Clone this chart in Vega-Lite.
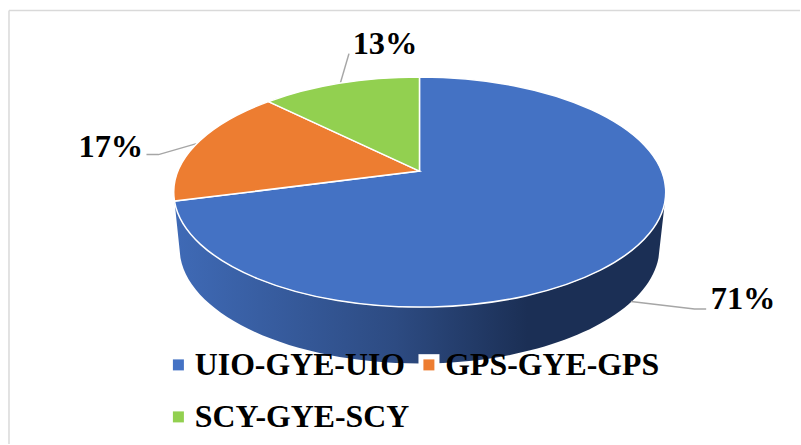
{
"$schema":"https://vega.github.io/schema/vega-lite/v6.json",
"autosize":{"type":"fit","contains":"padding"},
"padding":0,"width":801,"height":445,"background":"white",
"config":{"view":{"stroke":null},"text":{"font":"Liberation Serif"}},
"resolve":{"scale":{"shape":"independent"}},
"data":{"values":[{"route":"UIO-GYE-UIO","share":0.71},{"route":"GPS-GYE-GPS","share":0.17},{"route":"SCY-GYE-SCY","share":0.13}]},
"layer":[
{"mark":{"type":"rule","color":"#d9d9d9","strokeWidth":1.5},
 "transform":[{"filter":"datum.route==='UIO-GYE-UIO'"}],
 "encoding":{"x":{"datum":9,"type":"quantitative","scale":{"domain":[0,801],"nice":false,"zero":false},"axis":null},"y":{"datum":10.5,"type":"quantitative","scale":{"domain":[445,0],"nice":false,"zero":false},"axis":null},"y2":{"datum":445}}},
{"mark":{"type":"rule","color":"#d9d9d9","strokeWidth":1.5},
 "transform":[{"filter":"datum.route==='UIO-GYE-UIO'"}],
 "encoding":{"x":{"datum":9,"type":"quantitative","axis":null},"x2":{"datum":801},"y":{"datum":10.5,"type":"quantitative","axis":null}}},
{"mark":{"type":"point","filled":true,"size":4,"opacity":1,"strokeWidth":0,"color":{"x1":0,"y1":0,"x2":1,"y2":0,"gradient":"linear","stops":[{"offset":0,"color":"#3F6AB6"},{"offset":0.45,"color":"#2D4B82"},{"offset":0.72,"color":"#1B2F55"},{"offset":1,"color":"#1B2F55"}]}},
 "transform":[{"filter":"datum.route==='UIO-GYE-UIO'"}],
 "encoding":{"x":{"datum":420,"type":"quantitative","axis":null},"y":{"datum":171.5,"type":"quantitative","axis":null},
 "shape":{"value":"M-245,30 L-239,87 A240,116 0 0 0 239,87 L245.5,30 A246,115 0 0 1 -245,30 Z"}}},
{"mark":{"type":"point","filled":false,"size":4,"opacity":1,"stroke":"#a6a6a6","strokeWidth":1.5},
 "encoding":{"x":{"datum":420,"type":"quantitative","axis":null},"y":{"datum":171.5,"type":"quantitative","axis":null},
 "shape":{"field":"route","type":"nominal","legend":null,"scale":{"domain":["UIO-GYE-UIO","GPS-GYE-GPS","SCY-GYE-SCY"],"range":["M211.5,130.5 L275,138 L286.7,138","M-273,-16.5 L-261,-16.5 L-223,-27.5","M-70.5,-117.5 L-79,-88.5"]}}}},
{"mark":{"type":"point","filled":true,"size":4,"opacity":1,"stroke":"white","strokeWidth":1.5},
 "encoding":{"x":{"datum":420,"type":"quantitative","axis":null},"y":{"datum":171.5,"type":"quantitative","axis":null},
 "color":{"field":"route","type":"nominal","scale":{"domain":["UIO-GYE-UIO","GPS-GYE-GPS","SCY-GYE-SCY"],"range":["#4472C4","#ED7D31","#92D050"]},
  "legend":{"title":null,"orient":"none","legendX":162.5,"legendY":349,"columns":2,"direction":"horizontal","gridAlign":"none","symbolType":"square","symbolSize":121,"symbolStrokeWidth":0,"symbolOpacity":1,"labelFont":"Liberation Serif","labelFontWeight":"bold","labelFontSize":31.8,"labelColor":"black","labelLimit":400,"labelOffset":0.5,"columnPadding":3.5,"rowPadding":19,"padding":0}},
 "shape":{"field":"route","type":"nominal","legend":null,"scale":{"domain":["UIO-GYE-UIO","GPS-GYE-GPS","SCY-GYE-SCY"],"range":["M0,0 L0,-94 A246,115 0 1 1 -245,30 Z","M0,0 L-245,30 A246,115 0 0 1 -151,-69.5 Z","M0,0 L-151,-69.5 A246,115 0 0 1 0,-94 Z"]}}}},
{"mark":{"type":"square","size":441,"color":"white","opacity":1},
 "transform":[{"filter":"datum.route==='GPS-GYE-GPS'"}],
 "encoding":{"x":{"datum":429.5,"type":"quantitative","axis":null},"y":{"datum":365.5,"type":"quantitative","axis":null}}},
{"mark":{"type":"text","font":"Liberation Serif","fontWeight":"bold","fontSize":32.4,"color":"black","align":"center","baseline":"alphabetic"},
 "transform":[{"filter":"datum.route==='UIO-GYE-UIO'"}],
 "encoding":{"x":{"datum":744,"type":"quantitative","axis":null},"y":{"datum":310,"type":"quantitative","axis":null},"text":{"field":"share","format":".0%"}}},
{"mark":{"type":"text","font":"Liberation Serif","fontWeight":"bold","fontSize":32.4,"color":"black","align":"center","baseline":"alphabetic"},
 "transform":[{"filter":"datum.route==='GPS-GYE-GPS'"}],
 "encoding":{"x":{"datum":111,"type":"quantitative","axis":null},"y":{"datum":157,"type":"quantitative","axis":null},"text":{"field":"share","format":".0%"}}},
{"mark":{"type":"text","font":"Liberation Serif","fontWeight":"bold","fontSize":32.4,"color":"black","align":"center","baseline":"alphabetic"},
 "transform":[{"filter":"datum.route==='SCY-GYE-SCY'"}],
 "encoding":{"x":{"datum":385.5,"type":"quantitative","axis":null},"y":{"datum":54,"type":"quantitative","axis":null},"text":{"field":"share","format":".0%"}}}
]
}
